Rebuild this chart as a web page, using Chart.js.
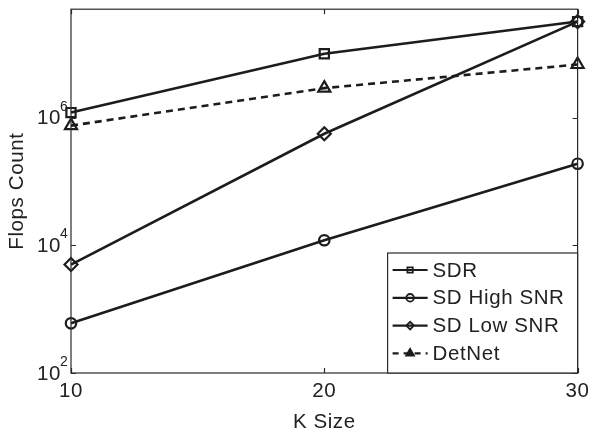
<!DOCTYPE html>
<html>
<head>
<meta charset="utf-8">
<script src="https://cdn.jsdelivr.net/npm/chart.js@4.4.0/dist/chart.umd.min.js"></script>
<style>
  html, body { margin: 0; padding: 0; background: #fff; }
  #wrap { width: 595px; height: 432px; }
</style>
</head>
<body>
<div id="wrap"><canvas id="chart_flops"></canvas></div>
<script>
// data
var kSize = [10, 20, 30]
var sdr = [1.2e6, 1.0e7, 3.2e7]
var sdHigh = [600, 1.2e4, 1.9e5]
var sdLow = [5.0e3, 5.6e5, 3.2e7]
var detNet = [7.5e5, 2.9e6, 6.8e6]
var xTicks = [10, 20, 30]
var yTickExp = [2, 4, 6]

var ink = '#1c1c1c'
var font = 'Liberation Sans, Arial, Helvetica, sans-serif'
var fontSize = 20.5

function pts(ys) {
    return kSize.map(function(k, i){ return { x: k, y: ys[i] } })
}

function series(label, ys, style, radius, dash) {
    return {
        label: label,
        data: pts(ys),
        borderColor: ink,
        backgroundColor: 'rgba(0,0,0,0)',
        borderWidth: 2.6,
        borderDash: dash || [],
        pointStyle: style,
        pointRadius: radius,
        pointBorderWidth: 2.2,
        pointBorderColor: ink,
        pointBackgroundColor: 'rgba(0,0,0,0)',
        tension: 0,
        clip: false
    }
}

// box, inward ticks, y labels with exponents and the legend
var matlabLook = {
    id: 'matlabLook',
    beforeDraw: function(chart) {
        chart.ctx.letterSpacing = '0.6px'
    },
    afterDatasetsDraw: function(chart) {
        var ctx = chart.ctx
        var a = chart.chartArea
        var xs = chart.scales.x, ys = chart.scales.y
        ctx.save()
        ctx.strokeStyle = '#2a2a2a'
        ctx.lineWidth = 1.2
        ctx.strokeRect(a.left, a.top, a.right - a.left, a.bottom - a.top)
        ctx.beginPath()
        xTicks.forEach(function(v){
            var px = Math.round(xs.getPixelForValue(v)) + 0.5
            ctx.moveTo(px, a.bottom); ctx.lineTo(px, a.bottom - 5)
            ctx.moveTo(px, a.top); ctx.lineTo(px, a.top + 5)
        })
        yTickExp.forEach(function(e){
            var py = Math.round(ys.getPixelForValue(Math.pow(10, e))) + 0.5
            ctx.moveTo(a.left, py); ctx.lineTo(a.left + 5, py)
            ctx.moveTo(a.right, py); ctx.lineTo(a.right - 5, py)
        })
        ctx.stroke()

        // y tick labels: 10 with a raised exponent
        ctx.fillStyle = '#222'
        ctx.textBaseline = 'middle'
        yTickExp.forEach(function(e){
            var py = ys.getPixelForValue(Math.pow(10, e))
            ctx.font = '14px ' + font
            ctx.textAlign = 'left'
            ctx.fillText(String(e), a.left - 11, py - 11)
            ctx.font = fontSize + 'px ' + font
            ctx.textAlign = 'right'
            ctx.fillText('10', a.left - 10, py + 1)
        })

        // legend in the lower right corner
        var lw = 190, lh = 120
        var lx = a.right - lw, ly = a.bottom - lh
        ctx.fillStyle = '#fff'
        ctx.fillRect(lx, ly, lw, lh)
        ctx.strokeStyle = '#2a2a2a'
        ctx.lineWidth = 1.2
        ctx.strokeRect(lx, ly, lw, lh)
        chart.data.datasets.forEach(function(ds, i){
            var cy = ly + 17 + i * 27.8
            var tri = ds.pointStyle === 'triangle'
            ctx.strokeStyle = ink
            ctx.lineWidth = 2.2
            ctx.setLineDash(ds.borderDash.length ? [6, 5] : [])
            ctx.beginPath()
            ctx.moveTo(lx + 5, cy); ctx.lineTo(lx + 40, cy)
            ctx.stroke()
            ctx.setLineDash([])
            ctx.lineWidth = 1.8
            ctx.fillStyle = tri ? ink : 'rgba(0,0,0,0)'
            Chart.helpers.drawPoint(ctx, {
                pointStyle: ds.pointStyle,
                radius: tri ? 4.5 : 3.8,
                borderWidth: 1.8,
                rotation: 0
            }, lx + 22.5, cy)
            ctx.fillStyle = '#222'
            ctx.font = fontSize + 'px ' + font
            ctx.textAlign = 'left'
            ctx.textBaseline = 'middle'
            ctx.fillText(ds.label, lx + 45, cy + 1)
        })
        ctx.restore()
    }
}

var ctx = document.getElementById('chart_flops')

var chartLine = new Chart(ctx, {
    type: 'line',
    data: {
        datasets: [
            series('SDR', sdr, 'rect', 6.5),
            series('SD High SNR', sdHigh, 'circle', 5.2),
            series('SD Low SNR', sdLow, 'rectRot', 6.5),
            series('DetNet', detNet, 'triangle', 7, [7, 5])
        ]
    },
    options: {
        responsive: true,
        maintainAspectRatio: false,
        animation: false,
        layout: { padding: { left: 0, right: 13, top: 8, bottom: 0 } },
        plugins: {
            legend: { display: false },
            tooltip: { enabled: false }
        },
        scales: {
            x: {
                type: 'linear',
                min: 10,
                max: 30,
                grid: { display: false, drawTicks: false },
                border: { display: false },
                afterBuildTicks: function(scale) {
                    scale.ticks = xTicks.map(function(v){ return { value: v } })
                },
                afterFit: function(scale) { scale.height = 59 },
                ticks: {
                    color: '#222',
                    padding: 6,
                    maxRotation: 0,
                    font: { family: font, size: fontSize }
                },
                title: {
                    display: true,
                    text: 'K Size',
                    color: '#222',
                    padding: { top: 0, bottom: -3 },
                    font: { family: font, size: fontSize }
                }
            },
            y: {
                type: 'logarithmic',
                min: 100,
                max: 5e7,
                grid: { display: false, drawTicks: false },
                border: { display: false },
                ticks: { display: false },
                afterFit: function(scale) { scale.width = 71 },
                title: {
                    display: true,
                    text: 'Flops Count',
                    color: '#222',
                    padding: { top: 5, bottom: 0 },
                    font: { family: font, size: fontSize }
                }
            }
        }
    },
    plugins: [matlabLook]
});
</script>
</body>
</html>
